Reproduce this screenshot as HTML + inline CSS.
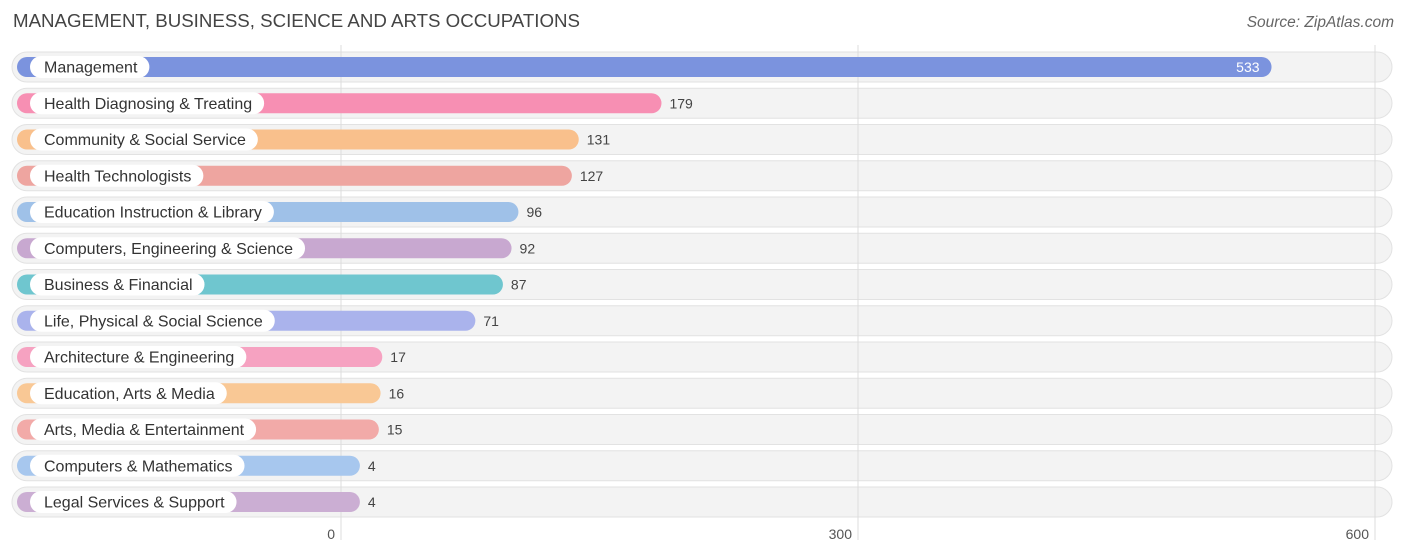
<!DOCTYPE html>
<html><head><meta charset="utf-8"><style>
body{margin:0;background:#fff;font-family:"Liberation Sans",Arial,sans-serif;}
#wrap{position:relative;width:1406px;height:558px;overflow:hidden;}
.title{position:absolute;left:13px;top:10px;font-size:18.7px;color:#444;}
.src{position:absolute;right:12px;top:14px;font-size:15.5px;color:#666;font-style:italic;}
</style></head><body>
<div id="wrap">
<div class="title">MANAGEMENT, BUSINESS, SCIENCE AND ARTS OCCUPATIONS</div>
<div class="src">Source: ZipAtlas.com</div>
<svg id="svg" width="1406" height="558" style="position:absolute;left:0;top:0"></svg>
</div>
<script>
const categories=["Management","Health Diagnosing & Treating","Community & Social Service","Health Technologists","Education Instruction & Library","Computers, Engineering & Science","Business & Financial","Life, Physical & Social Science","Architecture & Engineering","Education, Arts & Media","Arts, Media & Entertainment","Computers & Mathematics","Legal Services & Support"];
const values=[533,179,131,127,96,92,87,71,17,16,15,4,4];
const colors=["#7b93de","#f78fb3","#f9c08c","#eea5a0","#9fc1e8","#c8a8d0","#6fc6cf","#aab3ec","#f6a2c1","#f9c895","#f2aaa8","#a7c7ee","#cbaed3"];
const ticks=[0,300,600];
const NS="http://www.w3.org/2000/svg";
const svg=document.getElementById("svg");
const x0=341,pxPer=517/300;
const xs=v=>x0+v*pxPer;
const ys=i=>67+i*36.25;
function mk(t,a){const e=document.createElementNS(NS,t);for(const k in a)e.setAttribute(k,a[k]);return e;}
const rowsG=mk("g",{});
svg.appendChild(rowsG);
categories.forEach((c,i)=>{
 const y=ys(i);
 const bg=mk("rect",{x:12,y:y-15,width:1380,height:30,rx:15,fill:"#f3f3f3",stroke:"#e2e2e2"});
 
 
 rowsG.appendChild(bg);
});
ticks.forEach(t=>{
 const l=mk("line",{x1:xs(t),x2:xs(t),y1:45,y2:540,stroke:"#dcdcdc","stroke-width":1});
 
 
 svg.appendChild(l);
 const tx=mk("text",{x:xs(t)-6,y:539,"text-anchor":"end","font-size":14,fill:"#555","font-family":"Liberation Sans, sans-serif"});
 tx.textContent=t;
 
 
 svg.appendChild(tx);
});
categories.forEach((c,i)=>{
 const y=ys(i);
 const g=mk("g",{});
 
 
 svg.appendChild(g);
 const end=xs(values[i])+12;
 const bar=mk("rect",{x:17,y:y-10,width:end-17,height:20,rx:10,fill:colors[i]});
 
 
 g.appendChild(bar);
 const pill=mk("rect",{x:30,y:y-11,width:100,height:22,rx:11,fill:"#fff"});
 
 
 g.appendChild(pill);
 const lt=mk("text",{x:44,y:y+5.5,"font-size":16,fill:"#333","font-family":"Liberation Sans, sans-serif"});
 lt.textContent=c;
 
 
 g.appendChild(lt);
 pill.setAttribute("width",lt.getComputedTextLength()+26);
 const inside=values[i]>400;
 const vt=mk("text",{x:inside?end-12:end+8,y:y+5,"font-size":14,fill:inside?"#fff":"#444","text-anchor":inside?"end":"start","font-family":"Liberation Sans, sans-serif"});
 vt.textContent=values[i];
 
 
 g.appendChild(vt);
});
</script>
</body></html>
